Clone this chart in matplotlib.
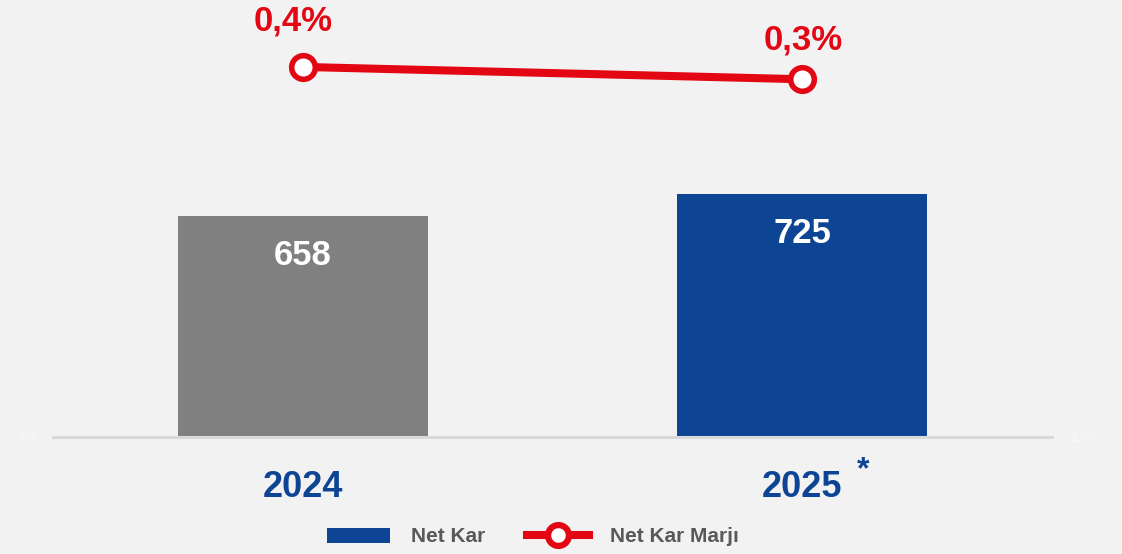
import matplotlib.pyplot as plt
from matplotlib.lines import Line2D
from matplotlib.patches import Patch

years = ["2024", "2025"]
net_kar = [658, 725]
net_kar_marji = [0.40, 0.32]  # %
bar_colors = ["#808080", "#0D4594"]

RED = "#E30613"
BLUE = "#0D4594"
BG = "#F2F2F2"

plt.rcParams["font.family"] = ["Liberation Sans", "DejaVu Sans"]

fig = plt.figure(figsize=(11.22, 5.54), dpi=100, facecolor=BG)
ax = fig.add_axes([53 / 1122, 117 / 554, 999 / 1122, 437 / 554])
ax.set_facecolor(BG)
x = list(range(len(years)))

bars = ax.bar(x, net_kar, width=0.5, color=bar_colors, zorder=2)
for xi, v in zip(x, net_kar):
    ax.annotate(f"{v}", xy=(xi, v), xytext=(0, -28.5), textcoords="offset points",
                ha="center", va="center", color="white", fontsize=25, fontweight="bold")

ax.set_xlim(-0.5, 1.5)
ax.set_ylim(0, 1302)
ax.set_xticks(x)
ax.set_xticklabels(years, fontsize=26, fontweight="bold", color=BLUE)
ax.tick_params(axis="x", length=0, pad=24)
ax.set_yticks([0])
ax.set_yticklabels(["0,0"], fontsize=8, color="#FAFAFA")
ax.tick_params(axis="y", length=0, pad=12)
for s in ["top", "right", "left"]:
    ax.spines[s].set_visible(False)
ax.spines["bottom"].set_color("#D9D9D9")
ax.spines["bottom"].set_linewidth(2.2)

ax.annotate("*", xy=(1, 0), xytext=(44, -24), textcoords="offset points",
            ha="center", va="center", color=BLUE, fontsize=23, fontweight="bold",
            annotation_clip=False)

ax2 = ax.twinx()
ax2.set_ylim(-2.0, 0.834)
ax2.plot(x, net_kar_marji, color=RED, lw=5.8, marker="o", markersize=17,
         markerfacecolor="white", markeredgecolor=RED, markeredgewidth=4, zorder=3,
         solid_capstyle="butt")
label_offsets = [(-7, 33), (1, 28)]
for xi, v, off in zip(x, net_kar_marji, label_offsets):
    ax2.annotate(f"{v:.1f}%".replace(".", ","), xy=(xi, v), xytext=off,
                 textcoords="offset points", ha="center", va="center",
                 color=RED, fontsize=25, fontweight="bold", annotation_clip=False)
ax2.set_yticks([-2.0])
ax2.set_yticklabels(["-2,0%"], fontsize=8, color="#FAFAFA")
ax2.tick_params(axis="y", length=0, pad=12)
for s in ["top", "right", "left", "bottom"]:
    ax2.spines[s].set_visible(False)

handles = [
    Patch(facecolor=BLUE, edgecolor="none"),
    Line2D([0], [0], color=RED, lw=5.8, marker="o", markersize=15,
           markerfacecolor="white", markeredgecolor=RED, markeredgewidth=4.5),
]
leg = fig.legend(handles, ["Net Kar", "Net Kar Marjı"], ncol=2, frameon=False,
                 loc="center", bbox_to_anchor=(533 / 1122, 1 - 537 / 554),
                 handlelength=3.0, handleheight=0.7, handletextpad=1.0, columnspacing=2.0,
                 prop={"size": 15, "weight": "bold"})
for t in leg.get_texts():
    t.set_color("#595959")

fig.savefig("out.png", dpi=100, facecolor=BG)
